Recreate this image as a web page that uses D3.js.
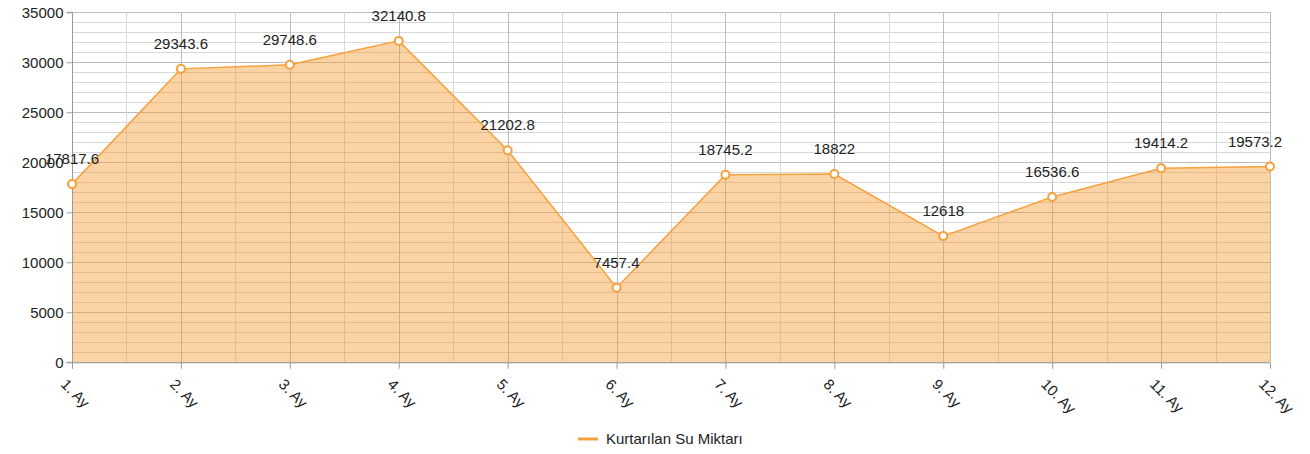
<!DOCTYPE html>
<html><head><meta charset="utf-8">
<script src="https://cdn.jsdelivr.net/npm/d3@7"></script>
<style>body{margin:0;background:#fff;font-family:Arial,"Liberation Sans",sans-serif}</style>
</head><body>
<svg id="c" width="1310" height="454"></svg>
<script>
const categories = ["1. Ay","2. Ay","3. Ay","4. Ay","5. Ay","6. Ay","7. Ay","8. Ay","9. Ay","10. Ay","11. Ay","12. Ay"];
const values = [17817.6,29343.6,29748.6,32140.8,21202.8,7457.4,18745.2,18822,12618,16536.6,19414.2,19573.2];
const yTicks = [0,5000,10000,15000,20000,25000,30000,35000];
const seriesName = "Kurtarılan Su Miktarı";

const FONT = "Arial, 'Liberation Sans', sans-serif";
const svg = d3.select("#c");
const L = 72, R = 1270, T = 12.3, B = 362.3;
const x = d3.scalePoint().domain(categories).range([L, R]);
const y = d3.scaleLinear().domain([0, 35000]).range([B, T]);

const g = svg.append("g");
g.selectAll(".hmin").data(d3.range(0, 35001, 1000)).join("line")
  .attr("x1", L).attr("x2", R).attr("y1", d => Math.round(y(d)) + 0.5).attr("y2", d => Math.round(y(d)) + 0.5)
  .attr("stroke", d => d % 5000 === 0 ? "#bdbdbd" : "#d8d8d8").attr("stroke-width", 1);
const step = x.step();
const mids = categories.slice(1).map(c => x(c) - step / 2);
g.selectAll(".vmin").data(mids).join("line")
  .attr("y1", T).attr("y2", B).attr("x1", d => Math.round(d) + 0.5).attr("x2", d => Math.round(d) + 0.5)
  .attr("stroke", "#d8d8d8");
g.selectAll(".vmaj").data(categories).join("line")
  .attr("y1", T).attr("y2", B).attr("x1", d => Math.round(x(d)) + 0.5).attr("x2", d => Math.round(x(d)) + 0.5)
  .attr("stroke", "#bdbdbd");

const area = d3.area().x((d, i) => x(categories[i])).y0(B).y1(d => y(d));
svg.append("path").datum(values).attr("d", area).attr("fill", "rgba(247,150,40,0.42)");
const line = d3.line().x((d, i) => x(categories[i])).y(d => y(d));
svg.append("path").datum(values).attr("d", line).attr("fill", "none").attr("stroke", "#f7a03c").attr("stroke-width", 1.5);

const yAxis = d3.axisLeft(y).tickValues(yTicks).tickSize(6).tickPadding(3).tickFormat(d3.format("d"));
const ya = svg.append("g").attr("transform", `translate(${L + 0.5},0)`).call(yAxis);
ya.select(".domain").attr("stroke", "#9a9a9a").attr("d", `M-6,${B}H0V${T}H-6`);
ya.selectAll(".tick line").attr("stroke", "#9a9a9a");
ya.selectAll("text").attr("font-size", 15).attr("fill", "#222").attr("font-family", FONT);

const xAxis = d3.axisBottom(x).tickSize(6).tickPadding(6);
const xa = svg.append("g").attr("transform", `translate(0,${B + 0.5})`).call(xAxis);
xa.select(".domain").attr("stroke", "#9a9a9a").attr("d", `M${L},0H${R}`);
xa.selectAll(".tick line").attr("stroke", "#9a9a9a");
xa.selectAll("text").attr("font-size", 15).attr("fill", "#222").attr("font-family", FONT)
  .attr("text-anchor", "start").attr("dy", null)
  .attr("transform", "translate(-4,14) rotate(45)");

svg.selectAll(".pt").data(values).join("circle")
  .attr("cx", (d, i) => x(categories[i])).attr("cy", d => y(d)).attr("r", 4)
  .attr("fill", "#fff").attr("stroke", "#f7a03c").attr("stroke-width", 2);

svg.selectAll(".lbl").data(values).join("text")
  .attr("x", (d, i) => Math.min(x(categories[i]), 1255)).attr("y", d => y(d) - 20)
  .attr("text-anchor", "middle").attr("font-size", 15).attr("fill", "#222").attr("font-family", FONT)
  .text(d => String(d));

const lg = svg.append("g").attr("transform", "translate(578,439)");
lg.append("line").attr("x1", 0).attr("x2", 20).attr("y1", 0).attr("y2", 0).attr("stroke", "#f7a03c").attr("stroke-width", 3);
lg.append("text").attr("x", 28).attr("y", 5).attr("font-size", 15).attr("fill", "#222").attr("font-family", FONT).text(seriesName);
</script>
</body></html>
